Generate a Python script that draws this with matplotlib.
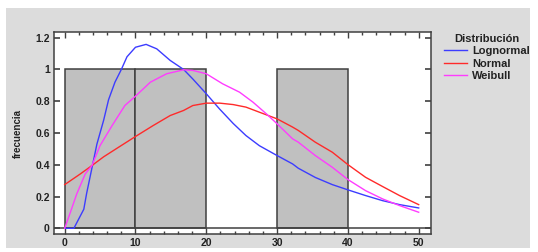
import matplotlib.pyplot as plt
from matplotlib.patches import Rectangle
from matplotlib.ticker import MultipleLocator

plt.rcParams['font.family'] = ['Liberation Sans', 'DejaVu Sans']

# histogram bars (left edge, width, height)
bar_left = [0, 10, 30]
bar_width = [10, 10, 10]
bar_height = [1, 1, 1]

# fitted curves, values
logn_x = [0, 1.3, 2.7, 3.1, 3.85, 4.55, 5.5, 6.2, 7.1, 8.0, 8.8, 10, 11.5, 13, 14.9, 16.8,
          18.1, 20, 21.9, 23.8, 25.6, 27.5, 30, 32.2, 33, 35.4, 37.8, 40, 42.5, 44.9, 47.3, 50]
logn_y = [0, 0, 0.12, 0.22, 0.38, 0.53, 0.68, 0.81, 0.92, 1.0, 1.08, 1.14, 1.158, 1.13, 1.057, 1.0,
          0.94, 0.847, 0.75, 0.66, 0.584, 0.52, 0.458, 0.405, 0.378, 0.32, 0.275, 0.242, 0.206, 0.174, 0.149, 0.128]

norm_x = [0, 2.2, 3.85, 5.5, 7.6, 10, 12.5, 14.9, 16.8, 18.1, 20, 21.9, 23.8, 25.6, 27.5, 30,
          32.2, 33, 35.4, 37.8, 40, 42.5, 44.9, 47.3, 50]
norm_y = [0.275, 0.342, 0.395, 0.45, 0.51, 0.578, 0.647, 0.71, 0.742, 0.773, 0.788, 0.788, 0.779, 0.763, 0.731, 0.689,
          0.637, 0.616, 0.542, 0.479, 0.401, 0.321, 0.263, 0.206, 0.149]

weib_x = [0, 0.8, 1.7, 2.9, 3.85, 5, 6.7, 8.5, 10, 12.1, 14.4, 16.8, 18.1, 20, 22.3, 24.7, 26.6, 28.5, 30,
          32.2, 33, 35.4, 37.8, 40, 42.5, 44.9, 47.3, 50]
weib_y = [0, 0.1, 0.216, 0.342, 0.395, 0.521, 0.647, 0.773, 0.832, 0.92, 0.973, 0.998, 0.994, 0.973, 0.91, 0.857, 0.794, 0.72, 0.658,
          0.563, 0.542, 0.458, 0.384, 0.307, 0.237, 0.185, 0.143, 0.101]

fig = plt.figure(figsize=(5.38, 2.52), dpi=100)
fig.patch.set_facecolor('white')
# gray panel behind the chart
fig.patches.append(Rectangle((6 / 538, 1 - 248 / 252), 524 / 538, 240 / 252,
                             transform=fig.transFigure, facecolor='#dcdcdc',
                             edgecolor='none', zorder=-10))

ax = fig.add_axes([54 / 538, 1 - 234 / 252, 377 / 538, 202 / 252])
ax.set_facecolor('white')

ax.bar(bar_left, bar_height, width=bar_width, align='edge', color='#c0c0c0',
       edgecolor='#404040', linewidth=1.1, zorder=1)
ax.axhline(0, color='#404040', linewidth=1.1, zorder=1)

ax.plot(logn_x, logn_y, color='#3c3cff', linewidth=1.0, label='Lognormal', zorder=3)
ax.plot(norm_x, norm_y, color='#ff2a2a', linewidth=1.0, label='Normal', zorder=3)
ax.plot(weib_x, weib_y, color='#ff3cff', linewidth=1.0, label='Weibull', zorder=3)

ax.set_xlim(-1.51, 51.74)
ax.set_ylim(-0.036, 1.236)
ax.set_xticks([0, 10, 20, 30, 40, 50])
ax.xaxis.set_minor_locator(MultipleLocator(2))
ax.set_yticks([0, 0.2, 0.4, 0.6, 0.8, 1, 1.2])
ax.set_yticklabels(['0', '0.2', '0.4', '0.6', '0.8', '1', '1.2'])

ax.tick_params(axis='x', which='major', direction='in', top=True, bottom=True,
               length=4, width=1, color='#404040', pad=3)
ax.tick_params(axis='x', which='minor', direction='in', top=True, bottom=True,
               length=2.5, width=1, color='#404040')
ax.tick_params(axis='y', which='major', direction='in', left=True, right=True,
               length=4.5, width=1.2, color='#404040', pad=3)
for lab in ax.get_xticklabels() + ax.get_yticklabels():
    lab.set_fontweight('bold')
    lab.set_fontsize(7.5)
    lab.set_color('#222222')

for sp in ax.spines.values():
    sp.set_color('#404040')
    sp.set_linewidth(1.1)

ax.set_ylabel('frecuencia', fontsize=7, fontweight='bold', color='#222222', labelpad=9)

leg = ax.legend(title='Distribución', loc='upper left', bbox_to_anchor=(1.015, 1.03),
                frameon=False, fontsize=8, title_fontsize=8, handlelength=2.0,
                handletextpad=0.5, labelspacing=0.22, borderaxespad=0.3)
leg.get_title().set_fontweight('bold')
for t in leg.get_texts():
    t.set_fontweight('bold')
    t.set_color('#222222')
leg.get_title().set_color('#222222')

fig.savefig('out.png', dpi=100)
